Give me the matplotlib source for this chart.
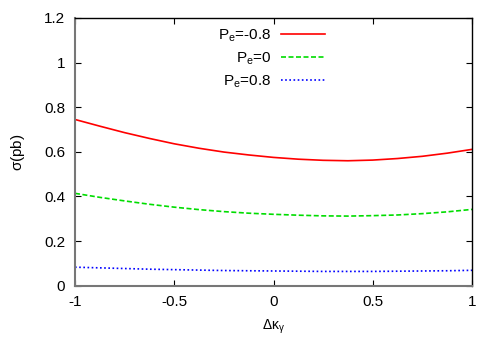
import matplotlib
matplotlib.use("Agg")
import matplotlib.pyplot as plt

plt.rcParams['font.family'] = ['Liberation Sans', 'DejaVu Sans']
plt.rcParams['mathtext.fontset'] = 'custom'
plt.rcParams['mathtext.rm'] = 'Liberation Sans'
plt.rcParams['mathtext.it'] = 'Liberation Sans'

dk = [-1.0, -0.875, -0.75, -0.625, -0.5, -0.375, -0.25, -0.125, 0.0,
      0.125, 0.25, 0.375, 0.5, 0.625, 0.75, 0.875, 1.0]
sig_m08 = [0.745, 0.715, 0.686, 0.660, 0.636, 0.616, 0.599, 0.586, 0.575,
           0.567, 0.562, 0.560, 0.563, 0.570, 0.580, 0.594, 0.611]
sig_0 = [0.414, 0.396, 0.380, 0.365, 0.352, 0.341, 0.332, 0.325, 0.320,
         0.316, 0.313, 0.312, 0.314, 0.317, 0.323, 0.331, 0.342]
sig_p08 = [0.083, 0.080, 0.077, 0.074, 0.072, 0.070, 0.068, 0.067, 0.066,
           0.065, 0.064, 0.064, 0.064, 0.065, 0.066, 0.067, 0.069]
labels = [r'P$_\mathrm{e}$=-0.8', r'P$_\mathrm{e}$=0', r'P$_\mathrm{e}$=0.8']
xticks = [-1, -0.5, 0, 0.5, 1]
yticks = [0, 0.2, 0.4, 0.6, 0.8, 1.0, 1.2]

fig = plt.figure(figsize=(5, 3.5), dpi=100)
ax = fig.add_axes([0.15, 0.1837, 0.794, 0.765])

ax.plot(dk, sig_m08, color='#ff0000', lw=1.2, ls='-', label=labels[0])
ax.plot(dk, sig_0, color='#00dd00', lw=1.2, ls=(0, (3, 1.5)), label=labels[1])
ax.plot(dk, sig_p08, color='#0000ff', lw=1.2, ls=(0, (1, 1.5)), label=labels[2])

ax.set_xlim(-1, 1)
ax.set_ylim(0, 1.2)
ax.set_xticks(xticks)
ax.set_xticklabels(['-1', '-0.5', '0', '0.5', '1'])
ax.set_yticks(yticks)
ax.set_yticklabels(['0', '0.2', '0.4', '0.6', '0.8', '1', '1.2'])
ax.tick_params(direction='in', top=True, right=True, length=4, width=0.8,
               labelsize=11, pad=7)
for s in ['left', 'bottom']:
    ax.spines[s].set_color('#777777')
    ax.spines[s].set_linewidth(1.5)
for s in ['top', 'right']:
    ax.spines[s].set_color('black')
    ax.spines[s].set_linewidth(1.0)

ax.set_xlabel(r'$\Delta\kappa_\gamma$', fontsize=10, labelpad=6)
ax.set_ylabel(r'$\sigma$(pb)', fontsize=11, labelpad=12)

leg = ax.legend(loc='upper left', bbox_to_anchor=(0.338, 1.0), frameon=False,
                markerfirst=False, fontsize=11, handlelength=2.9,
                labelspacing=0.45, handletextpad=0.6, borderaxespad=0.2)
for t in leg.get_texts():
    t.set_ha('right')

fig.savefig('out.png', dpi=100)
